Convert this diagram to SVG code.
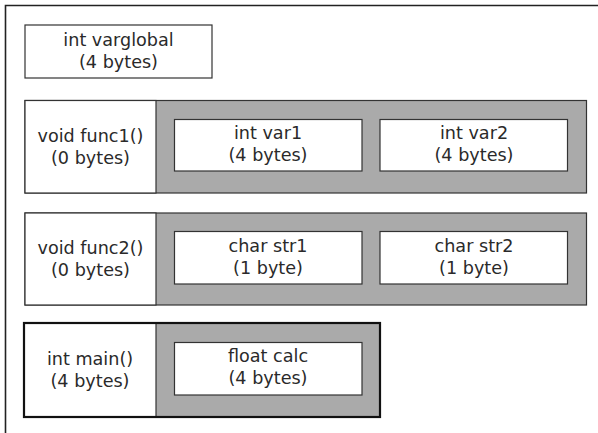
<svg xmlns="http://www.w3.org/2000/svg" width="598" height="433" viewBox="0 0 598 433">
  <style>
    .frame { fill: none; stroke: #222; stroke-width: 1.6; }
    .cell { fill: #fff; stroke: #333; stroke-width: 1.2; }
    .scope { fill: #aaaaaa; stroke: #333; stroke-width: 1.2; }
    .bold { fill: none; stroke: #111; stroke-width: 2.2; }
    text { font-family: "DejaVu Sans", "Liberation Sans", sans-serif; font-size: 17.6px; fill: #2a2a2a; text-anchor: middle; }
  </style>
  <rect width="598" height="433" fill="#fff"/>

  <!-- memory frame -->
  <g id="frame">
    <path class="frame" d="M5.5,433 V5.5 H598"/>
  </g>

  <!-- global variable -->
  <g id="varglobal">
    <rect class="cell" x="25" y="25" width="187" height="53"/>
    <text x="118.5" y="46">int varglobal</text>
    <text x="118.5" y="68">(4 bytes)</text>
  </g>

  <!-- func1 frame -->
  <g id="func1">
    <rect class="scope" x="25" y="100.5" width="561.5" height="92.5"/>
    <rect class="cell" x="25" y="100.5" width="131" height="92.5"/>
    <text x="90.5" y="142">void func1()</text>
    <text x="90.5" y="164">(0 bytes)</text>
  </g>
  <g id="var1">
    <rect class="cell" x="174.5" y="119.5" width="187.5" height="51.5"/>
    <text x="268" y="139">int var1</text>
    <text x="268" y="161">(4 bytes)</text>
  </g>
  <g id="var2">
    <rect class="cell" x="380" y="119.5" width="187.5" height="51.5"/>
    <text x="474" y="139">int var2</text>
    <text x="474" y="161">(4 bytes)</text>
  </g>

  <!-- func2 frame -->
  <g id="func2">
    <rect class="scope" x="25" y="213" width="561.5" height="92"/>
    <rect class="cell" x="25" y="213" width="131" height="92"/>
    <text x="90.5" y="254">void func2()</text>
    <text x="90.5" y="276">(0 bytes)</text>
  </g>
  <g id="str1">
    <rect class="cell" x="174.5" y="231.5" width="187.5" height="52.5"/>
    <text x="268" y="252">char str1</text>
    <text x="268" y="274">(1 byte)</text>
  </g>
  <g id="str2">
    <rect class="cell" x="380" y="231.5" width="187.5" height="52.5"/>
    <text x="474" y="252">char str2</text>
    <text x="474" y="274">(1 byte)</text>
  </g>

  <!-- main frame -->
  <g id="main">
    <rect class="scope" x="24" y="323" width="356" height="94"/>
    <rect class="cell" x="24" y="323" width="132" height="94"/>
    <rect class="bold" x="24" y="323" width="356" height="94"/>
    <text x="90" y="365">int main()</text>
    <text x="90" y="387">(4 bytes)</text>
  </g>
  <g id="calc">
    <rect class="cell" x="174.5" y="342.5" width="187.5" height="52.5"/>
    <text x="268" y="362">float calc</text>
    <text x="268" y="384">(4 bytes)</text>
  </g>

  <!-- connectors: none drawn -->
  <g id="connectors"/>
</svg>
